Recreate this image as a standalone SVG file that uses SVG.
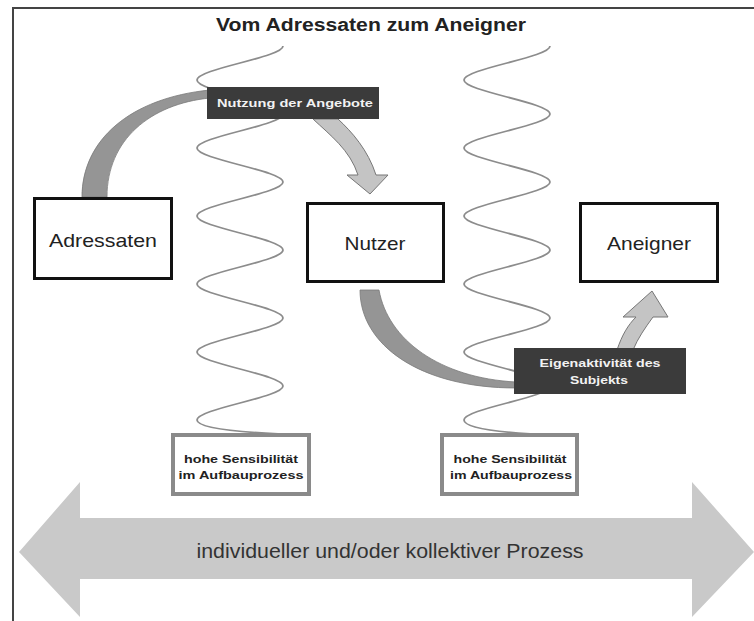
<svg xmlns="http://www.w3.org/2000/svg" width="754" height="621" viewBox="0 0 754 621">
<style>
text{font-family:"Liberation Sans",Arial,sans-serif}
.title{font-size:18px;font-weight:bold;fill:#222}
.node rect{fill:#fff;stroke:#111;stroke-width:3}
.node text{font-size:19px;fill:#222;text-anchor:middle}
.lbl rect{fill:#3b3b3b}
.lbl text{font-size:11.5px;font-weight:bold;fill:#f2f2f2;text-anchor:middle}
.sens rect{fill:#fff;stroke:#8a8a8a;stroke-width:4}
.sens text{font-size:11.5px;font-weight:bold;fill:#222;text-anchor:middle}
.wave{fill:none;stroke:#8c8c8c;stroke-width:1.8}
.dark{fill:#959595;stroke:#7a7a7a;stroke-width:0.8}
.light{fill:#c4c4c4;stroke:#777;stroke-width:1}
.big{fill:#c9c9c9}
.bigtxt{font-size:20px;fill:#333;text-anchor:middle}
</style>
<g id="frame">
<path d="M13 621 V8 H754" fill="none" stroke="#444" stroke-width="2"/>
</g>
<text id="title" class="title" x="371" y="31" text-anchor="middle" textLength="310" lengthAdjust="spacingAndGlyphs">Vom Adressaten zum Aneigner</text>
<g id="process">
<polygon class="big" points="19,552 80,482 80,518 692,518 692,482 754,552 692,617 692,579 80,579 80,617"/>
<text class="bigtxt" x="390" y="558" textLength="387" lengthAdjust="spacingAndGlyphs">individueller und/oder kollektiver Prozess</text>
</g>
<g id="waves">
<path class="wave" d="M283 46 c0 11.33 -86 22.67 -86 34 s86 22.67 86 34 s-86 22.67 -86 34 s86 22.67 86 34 s-86 22.67 -86 34 s86 22.67 86 34 s-86 22.67 -86 34 s86 22.67 86 34 s-86 22.67 -86 34 s86 22.67 86 34 s-86 22.67 -86 34 C197 428 240 432 278 434"/>
<path class="wave" d="M550 46 c0 11.33 -86 22.67 -86 34 s86 22.67 86 34 s-86 22.67 -86 34 s86 22.67 86 34 s-86 22.67 -86 34 s86 22.67 86 34 s-86 22.67 -86 34 s86 22.67 86 34 s-86 22.67 -86 34 s86 22.67 86 34 s-86 22.67 -86 34 C464 428 500 432 530 434"/>
</g>
<g id="connectors">
<path class="dark" d="M82 197 C82 140 130 98 210 90 L210 98 C150 104 107 140 107 197 Z"/>
<path class="light" d="M313 119 C330 135 350 150 358 175 L347 175 L370 194 L388 175 L376 175 C368 150 352 132 338 119 Z"/>
<path class="dark" d="M360 290 C360 345 420 388 516 388 L516 382 C440 378 388 340 379 290 Z"/>
<path class="light" d="M617 350 C622 335 628 325 636 317 L623 317 L652 291 L668 317 L653 317 C645 328 638 338 633 350 Z"/>
</g>
<g id="adressaten" class="node">
<rect x="34.5" y="198.5" width="137" height="80"/>
<text x="103" y="247" textLength="108" lengthAdjust="spacingAndGlyphs">Adressaten</text>
</g>
<g id="nutzer" class="node">
<rect x="307.5" y="203.5" width="136" height="78"/>
<text x="375" y="250" textLength="61" lengthAdjust="spacingAndGlyphs">Nutzer</text>
</g>
<g id="aneigner" class="node">
<rect x="580.5" y="203.5" width="137" height="78"/>
<text x="649" y="250" textLength="84" lengthAdjust="spacingAndGlyphs">Aneigner</text>
</g>
<g id="nutzung" class="lbl">
<rect x="207" y="87" width="172" height="32"/>
<text x="295" y="107" textLength="156" lengthAdjust="spacingAndGlyphs">Nutzung der Angebote</text>
</g>
<g id="eigenaktivitaet" class="lbl">
<rect x="514" y="348" width="172" height="46"/>
<text x="600" y="367" textLength="121" lengthAdjust="spacingAndGlyphs">Eigenaktivität des</text>
<text x="599" y="384" textLength="58" lengthAdjust="spacingAndGlyphs">Subjekts</text>
</g>
<g id="sens1" class="sens">
<rect x="173" y="435" width="136" height="59"/>
<text x="241" y="463" textLength="114" lengthAdjust="spacingAndGlyphs">hohe Sensibilität</text>
<text x="241" y="479" textLength="125" lengthAdjust="spacingAndGlyphs">im Aufbauprozess</text>
</g>
<g id="sens2" class="sens">
<rect x="442" y="435" width="135" height="59"/>
<text x="510" y="463" textLength="113" lengthAdjust="spacingAndGlyphs">hohe Sensibilität</text>
<text x="511" y="479" textLength="122" lengthAdjust="spacingAndGlyphs">im Aufbauprozess</text>
</g>
</svg>
